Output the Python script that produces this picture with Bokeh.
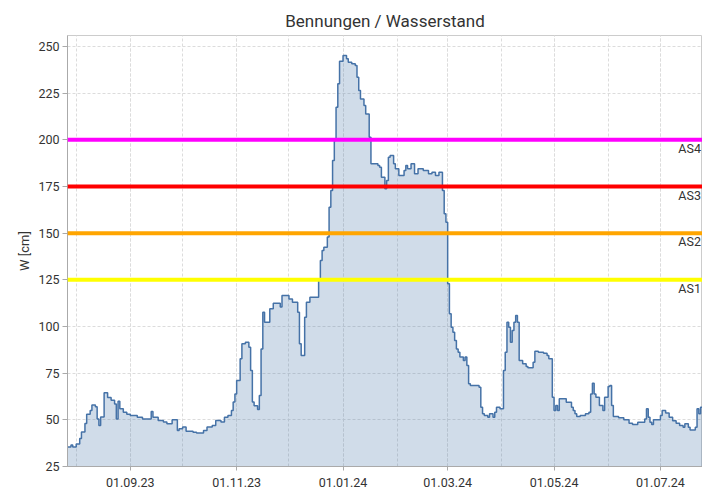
import pandas as pd
from bokeh.plotting import figure
from bokeh.models import Range1d, FixedTicker, DatetimeTickFormatter, Span, ColumnDataSource
from bokeh.core.properties import value
from bokeh.embed import file_html
from bokeh.resources import INLINE

title_text = "Bennungen / Wasserstand"
y_label = "W [cm]"

# Water level change points (step series)
dates = [
    "2023-07-27", "2023-07-29", "2023-07-30", "2023-08-01", "2023-08-03", "2023-08-04",
    "2023-08-06", "2023-08-07", "2023-08-09", "2023-08-10", "2023-08-12", "2023-08-13",
    "2023-08-14", "2023-08-15", "2023-08-17", "2023-08-19", "2023-08-21", "2023-08-23",
    "2023-08-24", "2023-08-25", "2023-08-26", "2023-08-28", "2023-08-30", "2023-09-01",
    "2023-09-05", "2023-09-08", "2023-09-13", "2023-09-14", "2023-09-17", "2023-09-20",
    "2023-09-22", "2023-09-25", "2023-09-28", "2023-09-29", "2023-10-01", "2023-10-03",
    "2023-10-07", "2023-10-09", "2023-10-13", "2023-10-15", "2023-10-18", "2023-10-20",
    "2023-10-23", "2023-10-25", "2023-10-27", "2023-10-29", "2023-10-30", "2023-10-31",
    "2023-11-01", "2023-11-03", "2023-11-04", "2023-11-06", "2023-11-08", "2023-11-09",
    "2023-11-10", "2023-11-11", "2023-11-13", "2023-11-14", "2023-11-15", "2023-11-16",
    "2023-11-17", "2023-11-20", "2023-11-22", "2023-11-26", "2023-11-27", "2023-12-01",
    "2023-12-03", "2023-12-06", "2023-12-07", "2023-12-08", "2023-12-10", "2023-12-11",
    "2023-12-13", "2023-12-18", "2023-12-19", "2023-12-20", "2023-12-21", "2023-12-23",
    "2023-12-24", "2023-12-25", "2023-12-26", "2023-12-27", "2023-12-28", "2023-12-29",
    "2023-12-30", "2024-01-01", "2024-01-03", "2024-01-04", "2024-01-06", "2024-01-08",
    "2024-01-09", "2024-01-10", "2024-01-11", "2024-01-13", "2024-01-14", "2024-01-16",
    "2024-01-17", "2024-01-21", "2024-01-22", "2024-01-23", "2024-01-25", "2024-01-26",
    "2024-01-27", "2024-01-28", "2024-01-30", "2024-01-31", "2024-02-02", "2024-02-05",
    "2024-02-06", "2024-02-07", "2024-02-09", "2024-02-11", "2024-02-13", "2024-02-16",
    "2024-02-19", "2024-02-21", "2024-02-23", "2024-02-25", "2024-02-27", "2024-02-28",
    "2024-02-29", "2024-03-01", "2024-03-02", "2024-03-03", "2024-03-04", "2024-03-05",
    "2024-03-06", "2024-03-07", "2024-03-08", "2024-03-10", "2024-03-11", "2024-03-12",
    "2024-03-13", "2024-03-14", "2024-03-19", "2024-03-20", "2024-03-21", "2024-03-22",
    "2024-03-24", "2024-03-25", "2024-03-27", "2024-03-28", "2024-03-29", "2024-03-31",
    "2024-04-02", "2024-04-03", "2024-04-04", "2024-04-05", "2024-04-06", "2024-04-07",
    "2024-04-08", "2024-04-09", "2024-04-10", "2024-04-11", "2024-04-13", "2024-04-15",
    "2024-04-16", "2024-04-19", "2024-04-20", "2024-04-22", "2024-04-25", "2024-04-27",
    "2024-04-28", "2024-04-30", "2024-05-01", "2024-05-02", "2024-05-03", "2024-05-04",
    "2024-05-08", "2024-05-11", "2024-05-12", "2024-05-13", "2024-05-14", "2024-05-16",
    "2024-05-19", "2024-05-21", "2024-05-22", "2024-05-23", "2024-05-24", "2024-05-25",
    "2024-05-27", "2024-05-29", "2024-05-30", "2024-06-01", "2024-06-02", "2024-06-03",
    "2024-06-04", "2024-06-07", "2024-06-10", "2024-06-13", "2024-06-15", "2024-06-18",
    "2024-06-22", "2024-06-23", "2024-06-24", "2024-06-25", "2024-06-26", "2024-06-27",
    "2024-07-01", "2024-07-02", "2024-07-04", "2024-07-06", "2024-07-08", "2024-07-10",
    "2024-07-12", "2024-07-14", "2024-07-15", "2024-07-17", "2024-07-18", "2024-07-21",
    "2024-07-22", "2024-07-23", "2024-07-24", "2024-07-26",
]
levels = [
    35.5, 36.5, 35.5, 37, 40, 43.5,
    48, 53, 55, 58, 57, 50.5,
    47, 51.5, 64.5, 62, 60.5, 58.5,
    50.5, 60, 56, 54, 53, 52.3,
    51.4, 50.5, 54.5, 51.4, 49.6, 48.8,
    47.9, 50, 44.3, 45.2, 46.1, 43.9,
    43.4, 42.9, 44.3, 46.1, 47, 49.6,
    48.8, 51.4, 52.3, 55, 59.5, 63.9,
    71.1, 82.7, 90.7, 91.6, 88.9, 76.4,
    59.5, 57.5, 55.5, 63, 88, 107.7,
    102.3, 109.5, 112.5, 110.4, 116.6, 114.8,
    113, 107.7, 90.7, 84.5, 105, 113,
    115.7, 125, 135.4, 140.7, 142.5, 147.9,
    163.9, 172.9, 188.9, 199.6, 217.5, 230,
    242.1, 245.2, 243.4, 241.6, 240.7, 239.8,
    233.5, 226.4, 221.9, 218.4, 213.9, 201.4,
    187.2, 186.2, 185.3, 180, 173.8, 178.2,
    190.7, 191.6, 187.2, 184.5, 180.9, 183.6,
    186.2, 184.5, 187.2, 181.8, 184.5, 183.6,
    181.8, 182.7, 180.9, 182.7, 172.9, 160.4,
    155.9, 122.9, 106.8, 99.6, 96.9, 92.5,
    88, 86.2, 83.6, 81.8, 83.6, 79.1,
    69.3, 68.4, 67.5, 56.8, 53.2, 52.3,
    51.4, 53.2, 51.4, 54.1, 56.8, 55.9,
    76.4, 86.2, 102.3, 99.6, 91.6, 97.9,
    102.3, 105.9, 102.3, 81.8, 80, 78.6,
    77.9, 80.9, 86.8, 86.2, 85.7, 84.5,
    82.7, 62.1, 55, 57.7, 55, 61.3,
    59.4, 56.8, 55, 53.2, 51.8, 52.3,
    53.2, 54.1, 63.9, 69.6, 63.9, 62.1,
    57.7, 55, 62.1, 67.9, 68.4, 57.7,
    51.8, 51.1, 50, 48.2, 47.5, 48.7,
    50.5, 55.9, 51.4, 48.7, 47.5, 50,
    52.3, 55, 53.6, 51.4, 49.5, 48.2,
    46.9, 46, 47.9, 46, 44.6, 46,
    55.9, 53.2, 56.8, 56.8,
]

# Alarm stages (Alarmstufen)
stage_levels = [125, 150, 175, 200]
stage_names = ["AS1", "AS2", "AS3", "AS4"]
stage_colors = ["#ffff00", "#ffa500", "#ff0000", "#ff00ff"]

label_ticks = ["2023-09-01", "2023-11-01", "2024-01-01", "2024-03-01", "2024-05-01", "2024-07-01"]
month_grid = ["2023-08-01", "2023-09-01", "2023-10-01", "2023-11-01", "2023-12-01", "2024-01-01",
              "2024-02-01", "2024-03-01", "2024-04-01", "2024-05-01", "2024-06-01", "2024-07-01"]
y_ticks = [25, 50, 75, 100, 125, 150, 175, 200, 225, 250]


def to_ms(d):
    return pd.Timestamp(d).value / 1e6


FONT = "Roboto"
TEXT = "#333333"
LINE = "#4572a7"
GRID = "#dcdcdc"

src = ColumnDataSource(dict(x=pd.to_datetime(dates), y=levels))

p = figure(
    width=702, height=490,
    x_axis_type="datetime",
    x_range=Range1d(pd.Timestamp("2023-07-27"), pd.Timestamp("2024-07-25 03:00")),
    y_range=Range1d(25, 255.9),
    output_backend="svg", toolbar_location=None,
    min_border_left=67, min_border_right=0, min_border_top=35, min_border_bottom=24,
    title=title_text,
)
p.title.align = "center"
p.title.text_font = FONT
p.title.text_font_size = "17px"
p.title.text_font_style = "normal"
p.title.text_color = TEXT
p.outline_line_color = "#cccccc"

p.varea_step(x="x", y1=0, y2="y", step_mode="after", source=src,
             fill_color=LINE, fill_alpha=0.25)
p.step(x="x", y="y", mode="after", source=src, line_color=LINE, line_width=1.5)

for lvl, col in zip(stage_levels, stage_colors):
    p.add_layout(Span(location=lvl, dimension="width", line_color=col, line_width=4))

p.text(x=[pd.Timestamp("2024-07-11 06:00")] * len(stage_levels), y=stage_levels, text=stage_names,
       text_baseline="top", text_align="left", y_offset=1,
       text_font=value(FONT), text_font_size="12.5px", text_color=TEXT)

# axes
p.xaxis.ticker = FixedTicker(ticks=[to_ms(d) for d in label_ticks],
                             minor_ticks=[to_ms(d) for d in month_grid])
fmt = "%d.%m.%y"
p.xaxis.formatter = DatetimeTickFormatter(days=fmt, months=fmt, years=fmt, hours=fmt,
                                          minutes=fmt, seconds=fmt, milliseconds=fmt,
                                          microseconds=fmt, hourmin=fmt, minsec=fmt)
p.yaxis.ticker = FixedTicker(ticks=y_ticks)
p.yaxis.axis_label = y_label

for ax in (p.xaxis[0], p.yaxis[0]):
    ax.major_label_text_font = FONT
    ax.major_label_text_font_size = "12.5px"
    ax.major_label_text_color = TEXT
    ax.axis_line_color = "#aaaaaa"
    ax.major_tick_line_color = "#aaaaaa"
    ax.minor_tick_line_color = None
    ax.major_tick_in = 0

p.xaxis.major_tick_out = 4
p.xaxis.major_label_standoff = 7
p.yaxis.major_tick_out = 5
p.yaxis.major_label_standoff = 3
p.yaxis.axis_label_text_font = FONT
p.yaxis.axis_label_text_font_style = "normal"
p.yaxis.axis_label_text_font_size = "13px"
p.yaxis.axis_label_text_color = TEXT
p.yaxis.axis_label_standoff = 3

p.xgrid.grid_line_color = GRID
p.xgrid.grid_line_dash = "3 2"
p.xgrid.minor_grid_line_color = GRID
p.xgrid.minor_grid_line_dash = "3 2"
p.ygrid.grid_line_color = GRID
p.ygrid.grid_line_dash = "3 2"

open("out.html", "w").write(file_html(p, INLINE))
